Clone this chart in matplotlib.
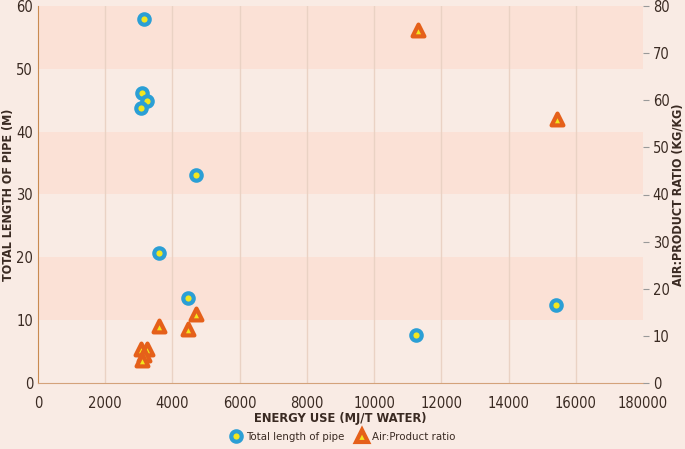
import matplotlib.pyplot as plt

# pipe length vs energy use (left axis)
pipe_energy = [3150, 3100, 3250, 3050, 4700, 3600, 4450, 11250, 15400]
pipe_length = [58.0, 46.2, 44.9, 43.8, 33.1, 20.7, 13.5, 7.6, 12.4]

# air:product ratio vs energy use (right axis)
ratio_energy = [11300, 15450, 3600, 4700, 4450, 3050, 3250, 3150, 3100]
ratio_value = [74.9, 56.0, 12.1, 14.6, 11.5, 7.2, 7.2, 5.9, 4.9]

x_ticks = [0, 2000, 4000, 6000, 8000, 10000, 12000, 14000, 16000, 18000]
x_labels = ['0', '2000', '4000', '6000', '8000', '10000', '12000', '14000', '16000', '180000']

bg = '#f9ebe4'
band = '#fbe1d6'
blue = '#2b9fd5'
yellow = '#f2e61f'
orange = '#e5601a'
txt = '#3a2a22'

plt.rcParams['font.family'] = ['DejaVu Sans']
plt.rcParams['font.stretch'] = 'condensed'

fig = plt.figure(figsize=(6.85, 4.49), dpi=100, facecolor=bg)
ax = fig.add_axes([38 / 685, 1 - 383 / 449, 605 / 685, 377 / 449])
ax.set_facecolor(bg)

# alternating horizontal bands
for lo in [10, 30, 50]:
    ax.axhspan(lo, lo + 10, color=band, zorder=0, lw=0)
for xv in x_ticks[1:-1]:
    ax.axvline(xv, color='#ead2c4', lw=1, zorder=1)

ax.set_xlim(0, 18000)
ax.set_ylim(0, 60)
ax.set_xticks(x_ticks)
ax.set_xticklabels(x_labels)
ax.set_yticks(range(0, 61, 10))
ax.tick_params(length=0, labelsize=10.5, colors=txt)
ax.tick_params(axis='x', pad=9)
ax.tick_params(axis='y', pad=3.5)
for s in ['top', 'right']:
    ax.spines[s].set_visible(False)
ax.spines['left'].set_color('#c98a50')
ax.spines['bottom'].set_color('#d4a27a')
ax.set_xlabel('ENERGY USE (MJ/T WATER)', fontsize=9.3, fontweight='bold', color=txt, labelpad=1)
ax.set_ylabel('TOTAL LENGTH OF PIPE (M)', fontsize=9, fontweight='bold', color=txt)
ax.yaxis.set_label_coords(-0.038, 0.5)

ax.plot(pipe_energy, pipe_length, ls='none', marker='o', ms=7.5, mfc=yellow,
        mec=blue, mew=3, zorder=3)

ax2 = ax.twinx()
ax2.set_ylim(0, 80)
ax2.set_yticks(range(0, 81, 10))
ax2.tick_params(length=4, labelsize=10.5, colors=txt, pad=3)
ax2.tick_params(axis='y', color='#999999')
for s in ['top', 'right', 'left', 'bottom']:
    ax2.spines[s].set_visible(False)
ax2.set_ylabel('AIR:PRODUCT RATIO (KG/KG)', fontsize=9, fontweight='bold', color=txt)
ax2.yaxis.set_label_coords(1.047, 0.5)

sc = ax2.scatter(ratio_energy, ratio_value, marker='^', s=72, c=yellow,
                 edgecolors=orange, linewidths=3, zorder=3)
sc.set_joinstyle('round')

h1 = plt.Line2D([], [], ls='none', marker='o', ms=7.5, mfc=yellow, mec=blue, mew=3)
h2 = plt.Line2D([], [], ls='none', marker='^', ms=8.5, mfc=yellow, mec=orange, mew=3)
fig.legend([h1, h2], ['Total length of pipe', 'Air:Product ratio'], loc='center',
           bbox_to_anchor=(0.5, 12 / 449), ncol=2, frameon=False,
           fontsize=8.2, labelcolor=txt, handletextpad=0.3, columnspacing=0.9,
           handlelength=1.2)

fig.savefig('out.png', dpi=100, facecolor=bg)
